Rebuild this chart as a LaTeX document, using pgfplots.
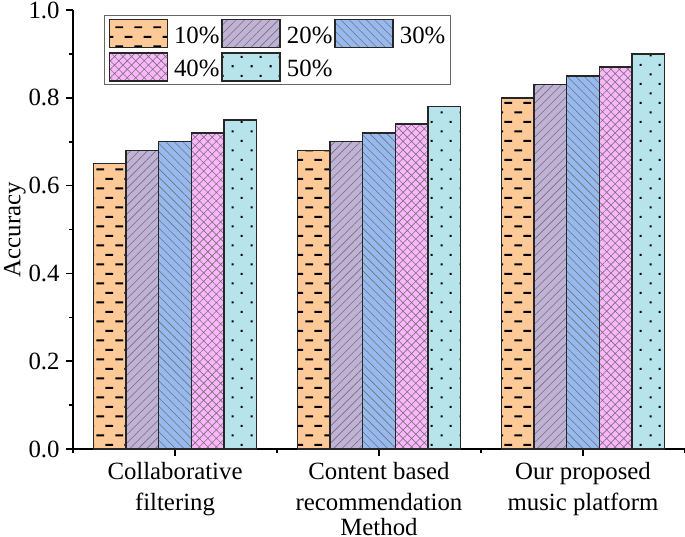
\documentclass[border=0pt]{standalone}
\usepackage{pgfplots}
\pgfplotsset{compat=1.18}
\usepackage{fontspec}
\setmainfont{Liberation Serif}
\usetikzlibrary{patterns.meta}
\definecolor{c1}{RGB}{253,201,150}
\definecolor{c2}{RGB}{191,178,214}
\definecolor{c3}{RGB}{150,185,240}
\definecolor{c4}{RGB}{255,182,255}
\definecolor{c5}{RGB}{182,228,234}
\newcommand\lbl{\fontsize{12.4}{15.5}\selectfont}
\pgfdeclarepattern{
  name=stagdash, type=uncolored,
  bottom left={\pgfpoint{0pt}{0pt}}, top right={\pgfpoint{9.5pt}{9.7pt}},
  tile size={\pgfpoint{9.5pt}{9.7pt}},
  code={\pgfsetlinewidth{1pt}\pgfsetbuttcap
    \pgfpathmoveto{\pgfpoint{0.75pt}{2.425pt}}\pgfpathlineto{\pgfpoint{4.75pt}{2.425pt}}
    \pgfpathmoveto{\pgfpoint{5.5pt}{7.275pt}}\pgfpathlineto{\pgfpoint{9.5pt}{7.275pt}}
    \pgfusepath{stroke}}
}
\pgfdeclarepattern{
  name=stagdots, type=uncolored,
  bottom left={\pgfpoint{0pt}{0pt}}, top right={\pgfpoint{9.5pt}{9.7pt}},
  tile size={\pgfpoint{9.5pt}{9.7pt}},
  code={
    \pgfpathrectangle{\pgfpoint{1.85pt}{1.9pt}}{\pgfpoint{1.05pt}{1.05pt}}
    \pgfpathrectangle{\pgfpoint{6.6pt}{6.75pt}}{\pgfpoint{1.05pt}{1.05pt}}
    \pgfusepath{fill}}
}
\pgfplotsset{
  legimg/.style={legend image code/.code={\draw[##1] (0pt,-5.5pt) rectangle (29pt,8.5pt);}},
  mybar/.style={ybar, bar width=0.16, draw=black!85, line width=0.75pt, legimg},
}
\begin{document}
\begin{tikzpicture}
\begin{axis}[
  name=ax, scale only axis, width=306pt, height=219.5pt,
  xmin=-0.5, xmax=2.5, ymin=0, ymax=1,
  axis x line=bottom, axis y line=left,
  axis line style={-, line width=1pt, black},
  tick align=outside, major tick length=3.5pt, minor tick length=2pt,
  every tick/.style={line width=0.8pt, black},
  xtick={0,1,2}, minor xtick={-0.5,0.5,1.5,2.5},
  xticklabels={{Collaborative\\filtering},{Content based\\recommendation},{Our proposed\\music platform}},
  xticklabel style={align=center, font=\lbl, inner ysep=3pt},
  xlabel={Method},
  xlabel style={at={(axis description cs:0.5,0)}, anchor=base, yshift=-43pt, font=\lbl},
  ytick={0,0.2,0.4,0.6,0.8,1.0}, minor ytick={0.1,0.3,0.5,0.7,0.9},
  yticklabel style={font=\lbl, inner xsep=3pt, /pgf/number format/.cd, fixed, fixed zerofill, precision=1},
  /pgf/number format/assume math mode=true,
  ylabel={Accuracy},
  ylabel style={at={(axis description cs:-0.0948,0.5)}, anchor=center, font=\lbl},
  legend columns=3, legend cell align=left,
  legend style={at={(0.0507,0.9886)}, anchor=north west, draw=black!60, line width=0.5pt,
    inner xsep=2pt, inner ysep=1.5pt, row sep=2pt, font=\lbl,
    nodes={inner xsep=0.5pt, inner ysep=0.5pt},
    /tikz/every odd column/.append style={column sep=2.5pt},
    /tikz/every even column/.append style={column sep=0.5pt}},
]
\addplot[mybar, bar shift=-0.32, preaction={fill=c1}, pattern=stagdash, pattern color=black]
  coordinates {(0,0.65) (1,0.68) (2,0.80)};
\addplot[mybar, bar shift=-0.16, preaction={fill=c2}, pattern={Lines[angle=45,distance=3pt,line width=0.3pt]}, pattern color=black!55]
  coordinates {(0,0.68) (1,0.70) (2,0.83)};
\addplot[mybar, bar shift=0, preaction={fill=c3}, pattern={Lines[angle=-45,distance=3pt,line width=0.3pt]}, pattern color=black!55]
  coordinates {(0,0.70) (1,0.72) (2,0.85)};
\addplot[mybar, bar shift=0.16, preaction={fill=c4}, pattern={Hatch[angle=45,distance=3pt,line width=0.3pt]}, pattern color=black!55]
  coordinates {(0,0.72) (1,0.74) (2,0.87)};
\addplot[mybar, bar shift=0.32, preaction={fill=c5}, pattern=stagdots, pattern color=black]
  coordinates {(0,0.75) (1,0.78) (2,0.90)};
\legend{10\%,20\%,30\%,40\%,50\%}
\end{axis}
\pgfresetboundingbox
\path[use as bounding box] ([xshift=-36.5pt,yshift=-43.5pt]ax.south west) rectangle ([yshift=5pt]ax.north east);
\end{tikzpicture}
\end{document}
